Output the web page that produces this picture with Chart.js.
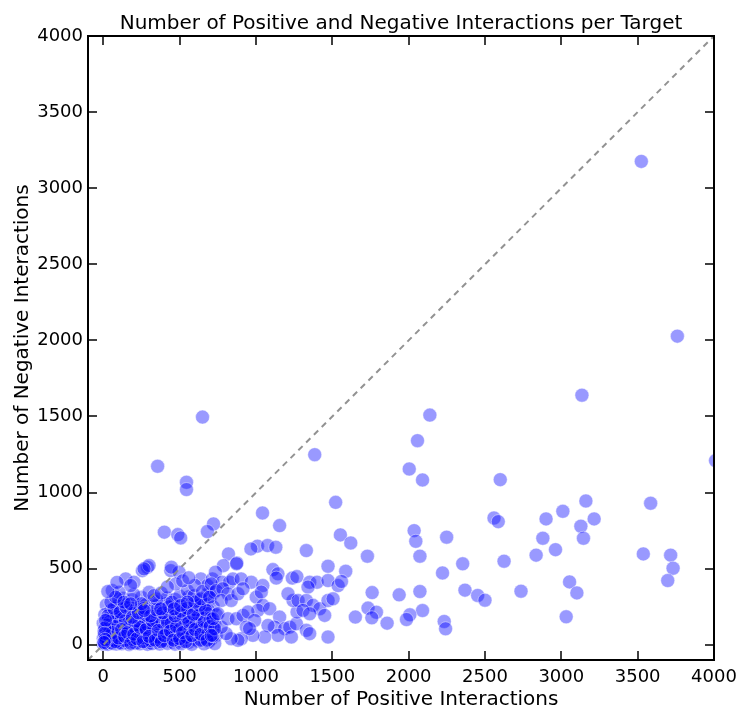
<!DOCTYPE html>
<html>
<head>
<meta charset="utf-8">
<script src="https://cdn.jsdelivr.net/npm/chart.js@4.4.1/dist/chart.umd.min.js"></script>
<style>
  html, body { margin: 0; padding: 0; background: #fff; }
  #wrap { width: 741px; height: 708px; }
</style>
</head>
<body>
<div id="wrap"><canvas id="c" width="741" height="708"></canvas></div>
<script>
// ---- DATA ----
const titleText = 'Number of Positive and Negative Interactions per Target';
const xTitle = 'Number of Positive Interactions';
const yTitle = 'Number of Negative Interactions';
const tickValues = [0, 500, 1000, 1500, 2000, 2500, 3000, 3500, 4000];
const axisMin = -100;
const axisMax = 4000;
const diagonalPositive = [-100, 4000];
const diagonalNegative = [-100, 4000];

// [positive, negative] pairs
const denseCore = [
  [130,305],[190,296],[250,312],[330,290],[420,308],[470,298],[560,315],[620,292],[700,304],
  [20,262],[90,255],[160,268],[210,250],[280,264],[350,258],[410,270],[490,252],[540,266],[600,257],[660,272],[720,249],
  [50,228],[120,236],[180,224],[240,232],[300,221],[380,238],[440,226],[520,234],[580,219],[640,231],[690,225],
  [10,198],[70,205],[140,192],[200,207],[260,196],[320,203],[360,188],[430,200],[470,209],[510,194],[560,202],[620,190],[680,206],[740,197],
  [30,172],[90,165],[110,178],[160,168],[230,175],[280,162],[340,171],[400,180],[460,166],[540,174],[600,163],[650,177],[710,169],
  [0,142],[50,136],[80,147],[130,139],[180,144],[210,133],[250,148],[300,137],[370,143],[420,131],[490,146],[530,138],[580,141],[630,134],[690,149],[730,136],
  [20,117],[60,110],[100,121],[150,112],[200,118],[270,109],[320,123],[350,114],[400,107],[450,119],[510,113],[560,122],[610,108],[660,116],[720,111],
  [5,92],[40,86],[80,95],[120,88],[170,93],[220,84],[240,97],[290,89],[340,91],[380,85],[430,96],[480,87],[540,94],[590,83],[640,98],[700,90],
  [10,66],[30,61],[70,69],[110,63],[140,70],[190,60],[230,67],[260,64],[310,71],[360,62],[410,68],[460,59],[500,66],[570,72],[620,61],[680,67],[740,63],
  [0,41],[25,38],[55,44],[90,36],[130,42],[160,39],[200,45],[250,37],[280,43],[330,40],[390,35],[440,46],[480,38],[530,42],[600,36],[650,44],[710,39],
  [5,22],[15,18],[45,24],[75,16],[100,21],[150,19],[180,25],[220,17],[270,23],[300,15],[350,20],[400,26],[450,18],[520,22],[560,16],[620,24],[690,19],
  [0,4],[10,8],[30,3],[60,9],[85,5],[120,7],[170,2],[210,10],[240,6],[290,3],[320,8],[370,5],[420,9],[470,4],[510,7],[580,3],[660,6],[730,8],
  [15,50],[35,75],[50,100],[65,30],[95,55],[110,12],[125,80],[140,28],[160,105],[175,55],[195,35],[215,88],[230,125],[260,45],[275,80],[290,130],[310,28],
  [45,155],[85,185],[105,60],[25,130],[55,12],[75,120],[145,160],[205,150],[265,185],[330,125],[360,50],[385,150],[415,80],[445,140],[470,60],[500,100],
  [525,175],[545,50],[610,140],[640,30],[670,110],[700,175],
  [20,30],[40,55],[60,80],[80,20],[100,45],[120,100],[140,55],[160,80],[180,10],[200,70],[220,40],[240,115],[260,20],[280,100],[300,55],[320,160],
  [340,30],[360,95],[380,20],[400,60],[420,150],[440,90],[460,30],[480,120],[500,40],[520,80],[540,20],[560,150],[580,60],[600,100],[620,200],
  [640,70],[660,150],[680,30],[700,120],[720,60],[30,190],[70,240],[110,215],[150,245],[190,180],[230,210],[270,240],[310,190],[350,230],[390,210],
  [430,250],[470,190],[510,220],[550,240],[590,200],[630,260],[670,230],[50,280],[100,300],[200,330],[250,270],[350,300],[450,280],[500,320],
  [600,280],[680,330],[10,110],[15,160],[8,75],[12,35],[5,15]
];

const denseUpper = [
  [289,509],[256,487],[442,487],[496,477],[475,400],[147,433],[201,411],[179,389],[59,356],[103,345],[81,313],
  [300,345],[332,323],[639,433],[682,389],[715,433],[551,356],[595,323],[30,350],[90,410],[300,521],[267,499],[446,510],
  [136,280],[179,269],[267,225],[376,236],[464,236],[507,258],[551,280],[639,302],[726,345],
  [380,340],[420,380],[520,420],[600,390],[650,350],[560,440]
];

const denseMid = [
  [820,597],[787,520],[875,538],[1472,516],[1111,494],[1144,466],[1133,438],[1238,438],[1268,448],[1352,411],[1400,411],
  [1341,379],[1472,422],[1538,389],[735,477],[779,411],[827,411],[849,433],[903,433],[969,411],[1045,389],[707,400],[740,356],[696,313],
  [783,368],[816,335],[773,291],[838,291],[882,335],[915,368],[1002,313],[1035,346],[1046,259],[1013,226],[1090,237],[1155,182],
  [1122,116],[1079,127],[1188,106],[1221,116],[1265,138],[1269,215],[1243,291],[1210,335],[1276,291],[1330,291],[1374,259],[1418,237],
  [1450,193],[1472,291],[1505,302],[1308,226],[1352,204],[1330,95],[1352,73],[1232,51],[1144,62],[1057,51],[980,62],[904,40],[882,29],
  [838,40],[805,73],[773,116],[729,106],[707,62],[718,171],[751,204],[816,171],[871,171],[915,193],[948,215],[991,160],[937,116],[958,106],[1472,51]
];

const spread = [
  [3524,3176],[3760,2028],[3135,1640],[2139,1509],[650,1496],[2058,1341],[1385,1249],[356,1173],[2004,1155],[2091,1083],[2600,1085],
  [545,1068],[545,1020],[4010,1210],[1522,936],[3161,945],[3585,930],[1043,866],[2900,827],[3215,827],[2559,833],[2587,809],[3010,877],
  [1155,783],[722,794],[3128,779],[2036,750],[682,744],[400,740],[488,724],[507,702],[1553,722],[3145,700],[2879,700],[1621,669],
  [2249,707],[2047,680],[1010,648],[1076,652],[1130,641],[967,630],[2962,625],[1330,619],[3537,597],[3716,589],[3732,503],[3697,422],
  [2835,589],[2074,582],[1730,582],[2625,549],[2354,532],[2222,472],[3054,413],[3102,341],[3032,184],[2736,352],[2369,359],[2452,324],
  [2500,293],[2074,350],[2091,225],[1938,328],[1761,343],[1734,241],[1789,214],[1759,177],[1651,182],[1859,142],[2008,197],[1986,166],
  [2233,153],[2242,105],[1588,483],[1560,416],[873,532]
];

// ---- CHART ----
const allPairs = [].concat(denseCore, denseUpper, denseMid, spread);
const scatterData = allPairs.map(p => ({ x: p[0], y: p[1] }));
const diagData = diagonalPositive.map((v, i) => ({ x: v, y: diagonalNegative[i] }));

const FONT = "'DejaVu Sans', 'Liberation Sans', sans-serif";

const framePlugin = {
  id: 'frame',
  afterDraw(chart) {
    const { ctx, chartArea: a, scales } = chart;
    const xs = scales.x, ys = scales.y;
    ctx.save();
    ctx.strokeStyle = '#000';
    ctx.lineWidth = 1.5;
    const seg = (x1, y1, x2, y2) => { ctx.beginPath(); ctx.moveTo(x1, y1); ctx.lineTo(x2, y2); ctx.stroke(); };
    const L = 9;
    tickValues.forEach(v => {
      const px = Math.round(xs.getPixelForValue(v));
      seg(px, a.bottom, px, a.bottom - L);
      seg(px, a.top, px, a.top + L);
      const py = Math.round(ys.getPixelForValue(v));
      seg(a.left, py, a.left + L, py);
      seg(a.right, py, a.right - L, py);
    });
    ctx.lineWidth = 2;
    ctx.strokeRect(a.left, a.top, a.right - a.left, a.bottom - a.top);

    ctx.fillStyle = '#000';
    ctx.font = '20px ' + FONT;
    ctx.textAlign = 'center';
    ctx.textBaseline = 'alphabetic';
    const cx = (a.left + a.right) / 2;
    ctx.fillText(titleText, cx, a.top - 7);
    ctx.fillText(xTitle, cx, 705);
    ctx.translate(28, (a.top + a.bottom) / 2);
    ctx.rotate(-Math.PI / 2);
    ctx.fillText(yTitle, 0, 0);
    ctx.restore();
  }
};

new Chart(document.getElementById('c'), {
  type: 'scatter',
  data: {
    datasets: [
      {
        type: 'line',
        data: diagData,
        borderColor: 'rgba(140,140,140,0.95)',
        borderWidth: 2,
        borderDash: [6, 5],
        pointRadius: 0,
        fill: false,
        order: 0,
        clip: 0
      },
      {
        data: scatterData,
        backgroundColor: 'rgba(0,0,255,0.4)',
        borderColor: 'rgba(255,255,255,0.45)',
        borderWidth: 1,
        pointRadius: 7,
        pointHoverRadius: 7,
        order: 1,
        clip: 0
      }
    ]
  },
  options: {
    responsive: false,
    animation: false,
    devicePixelRatio: 1,
    layout: { padding: { top: 36, right: 27, left: 0, bottom: 0 } },
    plugins: { legend: { display: false }, tooltip: { enabled: false }, title: { display: false } },
    scales: {
      x: {
        type: 'linear',
        min: axisMin, max: axisMax,
        afterBuildTicks: s => { s.ticks = tickValues.map(v => ({ value: v })); },
        afterFit: s => { s.height = 48; s.paddingLeft = 0; s.paddingRight = 0; },
        grid: { display: false, drawTicks: false },
        border: { display: false },
        ticks: { font: { family: FONT, size: 18 }, color: '#000', padding: 7, maxRotation: 0, autoSkip: false,
                 callback: v => String(v) }
      },
      y: {
        type: 'linear',
        min: axisMin, max: axisMax,
        afterBuildTicks: s => { s.ticks = tickValues.map(v => ({ value: v })); },
        afterFit: s => { s.width = 88; s.paddingTop = 0; s.paddingBottom = 0; },
        grid: { display: false, drawTicks: false },
        border: { display: false },
        ticks: { font: { family: FONT, size: 18 }, color: '#000', padding: 5, autoSkip: false,
                 callback: v => String(v) }
      }
    }
  },
  plugins: [framePlugin]
});
</script>
</body>
</html>
